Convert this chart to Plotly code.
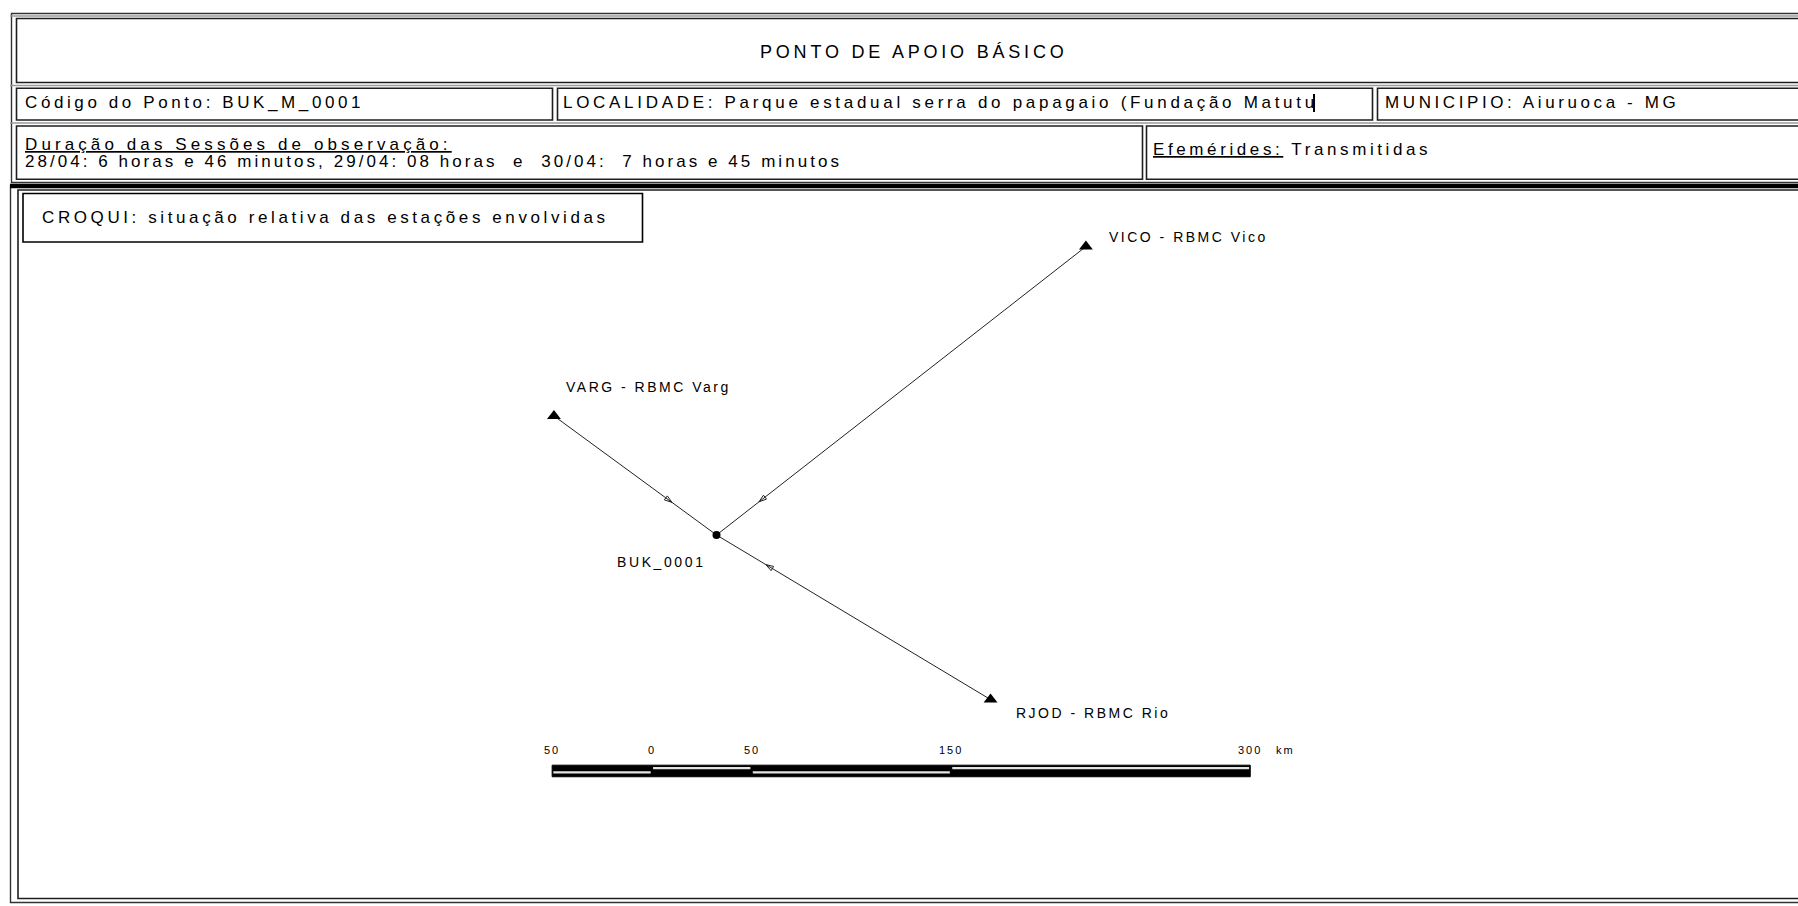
"""Croqui do ponto de apoio BUK_M_0001 — ficha em Plotly."""

import math

import plotly.graph_objects as go

W, H = 1798, 906
FONTE = "Liberation Sans, Arial, sans-serif"

# ── dados ──────────────────────────────────────
titulo = "PONTO DE APOIO BÁSICO"
codigo_ponto = "Código do Ponto: BUK_M_0001"
localidade = "LOCALIDADE: Parque estadual serra do papagaio (Fundação Matutu"
municipio = "MUNICIPIO: Aiuruoca - MG"
duracao_titulo = "Duração das Sessões de observação:"
duracao_texto = ("28/04: 6 horas e 46 minutos, 29/04: 08 horas\u00a0 e\u00a0 "
                 "30/04:\u00a0 7 horas e 45 minutos")
efemerides_titulo = "Efemérides:"
efemerides_texto = "Transmitidas"
croqui_titulo = "CROQUI: situação relativa das estações envolvidas"

estacoes = ["VARG", "VICO", "RJOD"]
estacoes_rotulo = ["VARG - RBMC Varg", "VICO - RBMC Vico", "RJOD - RBMC Rio"]
estacoes_leste_km = [-81.5, 185.2, 137.4]
estacoes_norte_km = [59.7, 144.6, -82.5]

ponto_rotulo = "BUK_0001"
ponto_leste_km = 0.0
ponto_norte_km = 0.0

escala_km = [-50, 0, 50, 150, 300]
escala_rotulos = ["50", "0", "50", "150", "300"]
escala_unidade = "km"

# ── estilo / posicionamento ────────────────────
PX_POR_KM = 1.9946
PONTO_PX = (716.5, 535.0)          # onde o ponto cai na página
ESCALA_ORIGEM = (-32.4, -118.3)    # km, canto do zero da barra
seta_fracao = [0.726, 0.885, 0.82]
rotulo_desloc = [(10, 29), (21, 10), (23.5, -13)]


def esp(texto, ls):
    return f'<span style="letter-spacing:{ls}px">{texto}</span>'


def px(x, y):
    return x / W, 1 - y / H


def caixa(x0, y0, x1, y1, cor="#1e1e1e", largura=1.6):
    a, b = px(x0, y1)
    c, d = px(x1, y0)
    return dict(type="rect", xref="paper", yref="paper", x0=a, y0=b, x1=c, y1=d,
                line=dict(color=cor, width=largura), fillcolor="rgba(0,0,0,0)",
                layer="above")


def linha_h(y, x0=10, x1=1820, cor="#9a9a9a", largura=1.5):
    a, b = px(x0, y)
    c, _ = px(x1, y)
    return dict(type="line", xref="paper", yref="paper", x0=a, y0=b, x1=c, y1=b,
                line=dict(color=cor, width=largura), layer="above")


def texto_pagina(texto, x, y, tamanho=17, ls=3.5, xanchor="left"):
    a, b = px(x, y)
    return dict(text=esp(texto, ls), x=a, y=b, xref="paper", yref="paper",
                xanchor=xanchor, yanchor="middle", showarrow=False,
                font=dict(family=FONTE, size=tamanho, color="black"))


fig = go.Figure()

# ── linhas estação → ponto ─────────────────────
lx, ly = [], []
for e, n in zip(estacoes_leste_km, estacoes_norte_km):
    lx += [e, ponto_leste_km, None]
    ly += [n, ponto_norte_km, None]
fig.add_trace(go.Scatter(x=lx, y=ly, mode="lines",
                         line=dict(color="#222", width=1), hoverinfo="skip"))

# setas pequenas no meio das linhas
sx, sy, ang = [], [], []
for e, n, f in zip(estacoes_leste_km, estacoes_norte_km, seta_fracao):
    sx.append(e + f * (ponto_leste_km - e))
    sy.append(n + f * (ponto_norte_km - n))
    ang.append(math.degrees(math.atan2(ponto_leste_km - e, ponto_norte_km - n)))
fig.add_trace(go.Scatter(x=sx, y=sy, mode="markers", hoverinfo="skip",
                         marker=dict(symbol="arrow-open", size=8, angle=ang,
                                     color="#222", line=dict(color="#222", width=1))))

# estações (triângulos) e ponto
fig.add_trace(go.Scatter(x=estacoes_leste_km, y=estacoes_norte_km, mode="markers",
                         text=estacoes, hoverinfo="text",
                         marker=dict(symbol="triangle-up", size=12, color="black")))
fig.add_trace(go.Scatter(x=[ponto_leste_km], y=[ponto_norte_km], mode="markers",
                         text=[ponto_rotulo], hoverinfo="text",
                         marker=dict(symbol="circle", size=8, color="black")))

anotacoes = []
for rot, e, n, (dx, dy) in zip(estacoes_rotulo, estacoes_leste_km,
                               estacoes_norte_km, rotulo_desloc):
    anotacoes.append(dict(text=esp(rot, 2.5), x=e, y=n, xref="x", yref="y",
                          xanchor="left", yanchor="middle", xshift=dx, yshift=dy,
                          showarrow=False,
                          font=dict(family=FONTE, size=14, color="black")))
anotacoes.append(dict(text=esp(ponto_rotulo, 2.6), x=ponto_leste_km, y=ponto_norte_km,
                      xref="x", yref="y", xanchor="right", yanchor="middle",
                      xshift=-9, yshift=-27, showarrow=False,
                      font=dict(family=FONTE, size=14, color="black")))

# ── barra de escala ────────────────────────────
ox, oy = ESCALA_ORIGEM
formas = [dict(type="rect", xref="x", yref="y",
               x0=ox + escala_km[0], x1=ox + escala_km[-1], y0=oy - 2.9, y1=oy + 2.9,
               fillcolor="black", line=dict(color="black", width=1))]
for i in range(len(escala_km) - 1):
    a, b = ox + escala_km[i], ox + escala_km[i + 1]
    faixa = (oy + 0.9, oy + 2.0) if i % 2 else (oy - 1.3, oy - 0.15)
    formas.append(dict(type="rect", xref="x", yref="y", x0=a + 0.6, x1=b - 0.6,
                       y0=faixa[0], y1=faixa[1], fillcolor="#e4e4e4",
                       line=dict(width=0)))
for v, rot in zip(escala_km, escala_rotulos):
    anotacoes.append(dict(text=esp(rot, 2), x=ox + v, y=oy, xref="x", yref="y",
                          xanchor="center", yanchor="middle", yshift=21,
                          showarrow=False,
                          font=dict(family=FONTE, size=11, color="black")))
anotacoes.append(dict(text=esp(escala_unidade, 2), x=ox + escala_km[-1], y=oy,
                      xref="x", yref="y", xanchor="left", yanchor="middle",
                      xshift=24, yshift=21, showarrow=False,
                      font=dict(family=FONTE, size=11, color="black")))

# ── moldura da ficha ───────────────────────────
formas += [
    caixa(11.5, 13.5, 1820, 182.5, cor="#333", largura=1.4),
    linha_h(16), linha_h(85.5), linha_h(123),
    caixa(16.5, 18.5, 1820, 82.5),
    caixa(16.5, 88.3, 552.5, 120),
    caixa(557.5, 88.3, 1372.5, 120),
    caixa(1377.5, 88.3, 1820, 120),
    caixa(16.5, 126, 1142.5, 179.2),
    caixa(1146.5, 126, 1820, 179.2),
    caixa(10.5, 186, 1820, 902.5, cor="#333", largura=1.4),
    linha_h(186, cor="black", largura=4.3),
    caixa(18, 190, 1820, 898.5),
    caixa(23, 193.5, 642.5, 242, cor="black"),
]
# cursor de texto sobre "Matutu"
a, b = px(1314, 94)
c, d = px(1314, 112)
formas.append(dict(type="line", xref="paper", yref="paper", x0=a, y0=b, x1=c, y1=d,
                   line=dict(color="black", width=2), layer="above"))

anotacoes += [
    texto_pagina(titulo, 914, 51.5, tamanho=18, ls=3.8, xanchor="center"),
    texto_pagina(codigo_ponto, 23, 102.5, ls=3.6),
    texto_pagina(localidade, 561, 102.5, ls=3.7),
    texto_pagina(municipio, 1383, 102.5, ls=3.6),
    texto_pagina(f"<u>{duracao_titulo}</u>", 23, 144.5, ls=4.1),
    texto_pagina(duracao_texto, 23, 161, ls=3.05),
    texto_pagina(f"<u>{efemerides_titulo}</u> {efemerides_texto}", 1151, 150, ls=3.6),
    texto_pagina(croqui_titulo, 40, 217, ls=3.6),
]

x0 = -PONTO_PX[0] / PX_POR_KM
y1 = PONTO_PX[1] / PX_POR_KM
fig.update_layout(
    width=W, height=H,
    margin=dict(l=0, r=0, t=0, b=0),
    paper_bgcolor="white", plot_bgcolor="white",
    showlegend=False,
    xaxis=dict(range=[x0, x0 + W / PX_POR_KM], visible=False, fixedrange=True),
    yaxis=dict(range=[y1 - H / PX_POR_KM, y1], visible=False, fixedrange=True),
    shapes=formas,
    annotations=anotacoes,
)

fig.write_html("out.html", config={"displayModeBar": False},
               post_script="document.body.style.margin='0';")
